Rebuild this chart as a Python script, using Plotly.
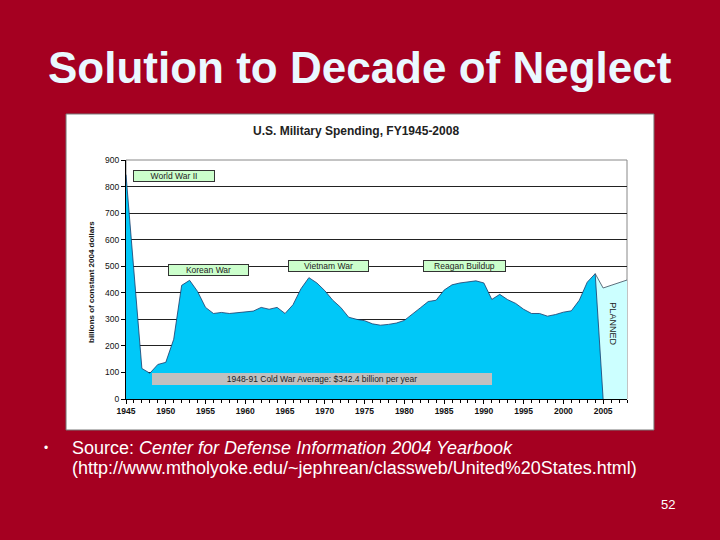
import plotly.graph_objects as go

years = list(range(1945, 2006))
spending = [845, 480, 115, 97, 130, 138, 225, 428, 447, 405,
            345, 322, 326, 322, 325, 330, 331, 345, 338, 345,
            322, 355, 415, 457, 437, 408, 372, 345, 308, 300,
            295, 283, 278, 281, 286, 296, 318, 343, 367, 372,
            410, 430, 437, 441, 445, 437, 375, 394, 374, 360,
            338, 322, 322, 312, 318, 327, 332, 372, 440, 472,
            0]

# planned spending
planned_years = [2004, 2005, 2006, 2007, 2008]
planned = [472, 418, 428, 438, 448]

tick_years = [1945, 1950, 1955, 1960, 1965, 1970, 1975, 1980, 1985, 1990, 1995, 2000, 2005]
tick_labels = [str(y) for y in tick_years]

BG = "#A50021"
FONT = "Liberation Sans, Arial, sans-serif"

fig = go.Figure()

fig.add_trace(go.Scatter(x=planned_years, y=planned, mode="lines", fill="tozeroy",
                         fillcolor="#CCFFFF", line=dict(color="#3a4a5a", width=0.8),
                         hoverinfo="skip", showlegend=False))
fig.add_trace(go.Scatter(x=years, y=spending, mode="lines", fill="tozeroy",
                         fillcolor="#00C8F8", line=dict(color="#1a3a6a", width=0.8),
                         hoverinfo="skip", showlegend=False))

# the white chart "picture" on the slide
fig.add_shape(type="rect", xref="paper", yref="paper", x0=0.0917, x1=0.9083,
              y0=0.2037, y1=0.7889, fillcolor="white", line=dict(color="#777", width=1),
              layer="below")
# plot area border
fig.add_shape(type="rect", xref="x domain", yref="y domain", x0=0, x1=1, y0=0, y1=1,
              line=dict(color="#888", width=1), layer="below")


def box(text, x, y, w, bg, border=None, size=8.5):
    fig.add_annotation(x=x, y=y, xref="x", yref="y", text=text, showarrow=False,
                       xanchor="center", yanchor="middle",
                       width=w, height=10, bgcolor=bg,
                       bordercolor=border if border else bg, borderwidth=1, borderpad=0,
                       font=dict(family=FONT, size=size, color="#222"))


def label(text, x, y, size, color, angle=0, anchor="center"):
    fig.add_annotation(x=x / 720, y=1 - y / 540, xref="paper", yref="paper", text=text,
                       showarrow=False, textangle=angle, xanchor=anchor, yanchor="middle",
                       font=dict(family=FONT, size=size, color=color))


box("World War II", 1951.0, 841, 80, "#CCFFCC", "#333")
box("Korean War", 1955.4, 484, 79, "#CCFFCC", "#333")
box("Vietnam War", 1970.5, 502, 79, "#CCFFCC", "#333")
box("Reagan Buildup", 1987.6, 502, 81, "#CCFFCC", "#333")
box("1948-91 Cold War Average: $342.4 billion per year", 1969.7, 74, 338, "#C0C0C0")

fig.add_annotation(x=2006.3, y=283, xref="x", yref="y", text="PLANNED", showarrow=False,
                   xanchor="center", yanchor="middle",
                   textangle=90, font=dict(family=FONT, size=9, color="#222"))

# chart title and axis title
label("<b>U.S. Military Spending, FY1945-2008</b>", 356, 131, 12, "#222")
label("<b>billions of constant 2004 dollars</b>", 91, 282, 8, "#111", angle=-90)

# slide texts
label("<b>Solution to Decade of Neglect</b>", 360, 68, 44, "#EAF8FF")
label("•", 46, 448, 12, "white")
label("Source: <i>Center for Defense Information 2004 Yearbook</i>", 70, 448, 18, "white",
      anchor="left")
label("(http://www.mtholyoke.edu/~jephrean/classweb/United%20States.html)", 70, 468, 18,
      "white", anchor="left")
label("52", 668, 504, 13, "white")

fig.update_xaxes(domain=[126 / 720, 627 / 720], range=[1945, 2008],
                 tickvals=tick_years, ticktext=["<b>%s</b>" % t for t in tick_labels],
                 tickfont=dict(family=FONT, size=8.5, color="#111"),
                 ticks="outside", ticklen=4, tickcolor="black",
                 minor=dict(dtick=1, tick0=1945, ticks="outside", ticklen=3, tickcolor="black"),
                 showgrid=False, showline=True, linecolor="black", linewidth=1,
                 zeroline=False, fixedrange=True, automargin=False)
fig.update_yaxes(domain=[1 - 399 / 540, 1 - 160 / 540], range=[0, 900], dtick=100,
                 tickfont=dict(family=FONT, size=8.5, color="#111"),
                 ticks="outside", ticklen=4, tickcolor="black",
                 showgrid=True, gridcolor="#222", gridwidth=1,
                 showline=True, linecolor="black", linewidth=1,
                 zeroline=False, fixedrange=True, automargin=False)

fig.update_layout(width=720, height=540, autosize=False,
                  margin=dict(l=0, r=0, t=0, b=0, pad=0),
                  paper_bgcolor=BG, plot_bgcolor="white", showlegend=False)

fig.write_html("out.html", config={"displayModeBar": False},
               post_script="document.body.style.margin='0';")
